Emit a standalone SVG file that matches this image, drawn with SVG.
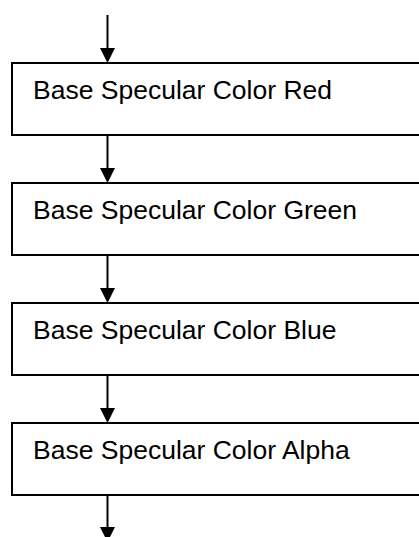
<svg xmlns="http://www.w3.org/2000/svg" width="419" height="537" viewBox="0 0 419 537">
<style>
.box{fill:#fff;stroke:#000;stroke-width:2}
.lbl{font-family:"Liberation Sans",Arial,sans-serif;font-size:26.5px;fill:#000}
.conn line{stroke:#000;stroke-width:2}
.conn polygon{fill:#000}
</style>
<rect width="419" height="537" fill="#fff"/>
<g class="conn" id="connectors">
<line x1="107.5" y1="15" x2="107.5" y2="50"/><polygon points="100,48 115,48 107.5,63"/>
<line x1="107.5" y1="135" x2="107.5" y2="170"/><polygon points="100,168 115,168 107.5,183"/>
<line x1="107.5" y1="255" x2="107.5" y2="290"/><polygon points="100,288 115,288 107.5,303"/>
<line x1="107.5" y1="375" x2="107.5" y2="410"/><polygon points="100,408 115,408 107.5,423"/>
<line x1="107.5" y1="495" x2="107.5" y2="530"/><polygon points="100,527 115,527 107.5,542"/>
</g>
<g id="node-red"><rect class="box" x="12" y="63" width="420" height="72"/><text class="lbl" x="33" y="99">Base Specular Color Red</text></g>
<g id="node-green"><rect class="box" x="12" y="183" width="420" height="72"/><text class="lbl" x="33" y="219">Base Specular Color Green</text></g>
<g id="node-blue"><rect class="box" x="12" y="303" width="420" height="72"/><text class="lbl" x="33" y="339">Base Specular Color Blue</text></g>
<g id="node-alpha"><rect class="box" x="12" y="423" width="420" height="72"/><text class="lbl" x="33" y="459">Base Specular Color Alpha</text></g>
</svg>
